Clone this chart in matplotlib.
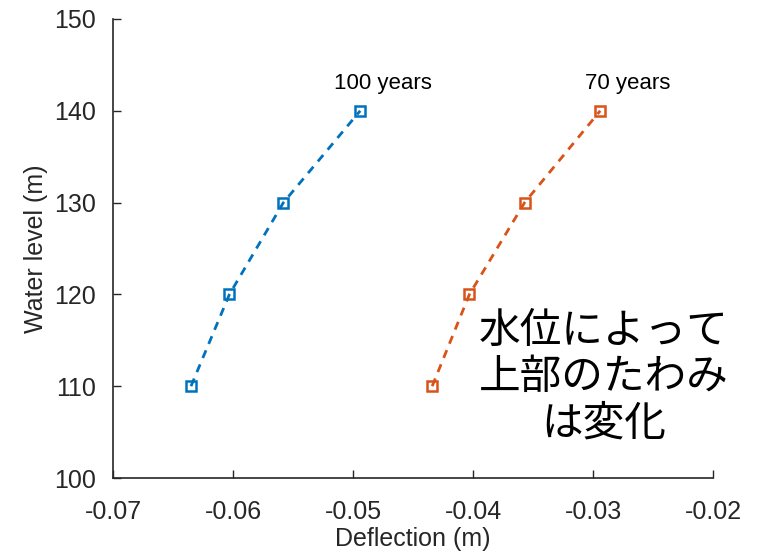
import matplotlib
matplotlib.use('Agg')
import matplotlib.pyplot as plt

plt.rcParams['font.family'] = ['Liberation Sans', 'Noto Sans CJK JP']

water_level = [110, 120, 130, 140]
defl_100 = [-0.0635, -0.0603, -0.0558, -0.0494]
defl_70 = [-0.0434, -0.0403, -0.0357, -0.0294]
xticks = [-0.07, -0.06, -0.05, -0.04, -0.03, -0.02]
yticks = [100, 110, 120, 130, 140, 150]

fig = plt.figure(figsize=(7.57, 5.57), dpi=100)
ax = fig.add_axes([113 / 757, 1 - 478 / 557, 600 / 757, 459 / 557])

ax.plot(defl_100, water_level, '--s', color='#0072BD', lw=2, ms=6.5,
        mfc='none', mew=1.8, dashes=(3, 2.5))
ax.plot(defl_70, water_level, '--s', color='#D95319', lw=2, ms=6.5,
        mfc='none', mew=1.8, dashes=(3, 2.5))

# series labels sit just above the top point
ax.text(defl_100[-1] + 0.0019, 143, '100 years', ha='center', va='center', fontsize=16)
ax.text(defl_70[-1] + 0.0023, 143, '70 years', ha='center', va='center', fontsize=16)
ax.text(-0.0291, 110.9, '水位によって\n上部のたわみ\nは変化', ha='center', va='center',
        fontsize=30, linespacing=1.17, family=['Noto Sans CJK JP'])

ax.set_xlim(-0.07, -0.02)
ax.set_ylim(100, 150)
ax.set_xticks(xticks, labels=[f'{t:g}' for t in xticks])
ax.set_yticks(yticks)
ax.spines['top'].set_visible(False)
ax.spines['right'].set_visible(False)
for s in ['left', 'bottom']:
    ax.spines[s].set_color('#262626')
    ax.spines[s].set_linewidth(1.2)
ax.tick_params(direction='in', length=6, width=1, colors='#262626',
               labelsize=18, labelcolor='#262626')
ax.tick_params(axis='x', pad=16)
ax.tick_params(axis='y', pad=12)
ax.set_xlabel('Deflection (m)', fontsize=18, color='#262626', labelpad=2)
ax.set_ylabel('Water level (m)', fontsize=18, color='#262626', labelpad=5)

fig.savefig('out.png', dpi=100)
